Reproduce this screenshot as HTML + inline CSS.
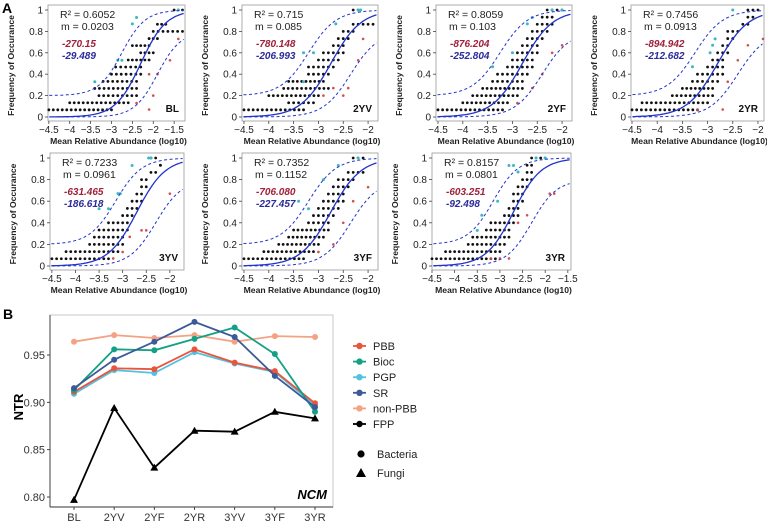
<!DOCTYPE html>
<html><head><meta charset="utf-8"><style>
html,body{margin:0;padding:0;background:#fff;}
svg{display:block;font-family:"Liberation Sans",Arial,sans-serif;}
</style></head><body>
<svg id="fig" width="767" height="522" viewBox="0 0 767 522" xmlns="http://www.w3.org/2000/svg">
<text x="2" y="13" font-size="14" font-weight="bold">A</text>
<text x="3" y="319" font-size="14" font-weight="bold">B</text>
<g id="pa"></g>
<g id="pb"></g>
</svg>
<script>
const NS="http://www.w3.org/2000/svg";
function mk(tag,attrs,parent,txt){const e=document.createElementNS(NS,tag);for(const k in attrs)e.setAttribute(k,attrs[k]);if(txt!==undefined)e.textContent=txt;parent.appendChild(e);return e;}

// ---------- Panel A data ----------
const panelLabels=["BL","2YV","2YF","2YR","3YV","3YF","3YR"];
const panelR2=["0.6052","0.715","0.8059","0.7456","0.7233","0.7352","0.8157"];
const panelM=["0.0203","0.085","0.103","0.0913","0.0961","0.1152","0.0801"];
const panelRed=["-270.15","-780.148","-876.204","-894.942","-631.465","-706.080","-603.251"];
const panelBlue=["-29.489","-206.993","-252.804","-212.682","-186.618","-227.457","-92.498"];
const panelMid=[-2.3,-2.75,-2.8,-2.8,-2.7,-2.75,-2.7];
const panelXTicks=[[-4.5,-4,-3.5,-3,-2.5,-2,-1.5],[-4.5,-4,-3.5,-3,-2.5,-2],[-4.5,-4,-3.5,-3,-2.5,-2],[-4.5,-4,-3.5,-3,-2.5,-2],[-4.5,-4,-3.5,-3,-2.5,-2],[-4.5,-4,-3.5,-3,-2.5,-2],[-4.5,-4,-3.5,-3,-2.5,-2,-1.5]];
const panelXMin=[-4.52,-4.54,-4.54,-4.52,-4.54,-4.54,-4.5];
const panelXMax=[-1.24,-1.8,-1.8,-1.88,-1.7,-1.8,-1.43];
const freqTicks=[0,0.2,0.4,0.6,0.8,1];
// black dot rows: [frequency, xStart, xEnd]
const rowsBL=[[.067,-4.5,-3.0],[.133,-4.0,-2.6],[.2,-3.3,-2.4],[.267,-3.4,-2.4],[.333,-3.2,-2.4],[.4,-3.0,-2.3],[.467,-2.9,-2.3],[.533,-2.6,-2.1],[.6,-2.3,-2.0],[.667,-2.5,-2.1],[.733,-2.1,-1.9],[.8,-2.0,-1.3],[.867,-1.9,-1.7],[1,-1.5,-1.3]];
const rows2YV=[[.067,-4.5,-3.3],[.133,-3.6,-3.1],[.2,-4.0,-3.0],[.267,-3.7,-2.8],[.333,-3.6,-2.9],[.4,-3.2,-2.8],[.467,-3.2,-2.7],[.533,-3.0,-2.6],[.6,-2.9,-2.5],[.667,-2.7,-2.5],[.733,-2.6,-2.4],[.8,-2.5,-2.3],[.867,-2.3,-1.9],[1,-2.3,-2.2]];
const rows2YF=[[.067,-4.5,-3.2],[.133,-4.0,-3.1],[.2,-3.8,-2.9],[.267,-3.6,-2.8],[.333,-3.4,-2.8],[.4,-3.3,-2.7],[.467,-3.1,-2.6],[.533,-3.0,-2.6],[.6,-2.9,-2.5],[.667,-2.8,-2.5],[.733,-2.7,-2.4],[.8,-2.6,-2.3],[.867,-2.5,-2.2],[.933,-2.4,-2.2],[1,-2.3,-2.0]];
const rows2YR=[[.067,-4.5,-3.2],[.133,-4.3,-3.0],[.2,-3.7,-2.9],[.267,-3.5,-2.9],[.333,-3.3,-2.8],[.4,-3.2,-2.7],[.467,-3.0,-2.7],[.533,-2.9,-2.7],[.6,-2.8,-2.6],[.667,-2.7,-2.6],[.733,-2.6,-2.5],[.8,-2.6,-2.4],[.867,-2.3,-2.2],[.933,-2.2,-2.1],[1,-2.2,-2.0]];
const rows3YV=[[.067,-4.5,-3.3],[.133,-4.2,-3.1],[.2,-3.7,-3.0],[.267,-3.6,-3.0],[.333,-3.5,-2.9],[.4,-3.3,-2.9],[.467,-3.0,-2.8],[.533,-2.9,-2.7],[.6,-2.8,-2.6],[.667,-2.7,-2.6],[.733,-2.6,-2.5],[.8,-2.6,-2.5],[.867,-2.4,-2.3],[.933,-2.2,-2.2],[1,-2.4,-2.3]];
const rows3YF=[[.067,-4.5,-3.3],[.133,-4.1,-3.1],[.2,-3.8,-3.0],[.267,-3.6,-2.9],[.333,-3.5,-2.8],[.4,-3.2,-2.8],[.467,-3.1,-2.7],[.533,-3.0,-2.6],[.6,-2.9,-2.5],[.667,-2.8,-2.5],[.733,-2.7,-2.4],[.8,-2.6,-2.3],[.867,-2.4,-2.1],[1,-2.3,-2.1]];
const rows3YR=[[.067,-4.5,-3.1],[.133,-4.2,-3.0],[.2,-3.7,-2.9],[.267,-3.6,-2.8],[.333,-3.3,-2.8],[.4,-3.2,-2.7],[.467,-2.9,-2.6],[.533,-2.8,-2.6],[.6,-2.7,-2.5],[.667,-2.7,-2.5],[.733,-2.6,-2.4],[.8,-2.5,-2.3],[.867,-2.4,-2.3],[.933,-2.4,-2.3],[1,-2.3,-2.0]];
const panelRows=[rowsBL,rows2YV,rows2YF,rows2YR,rows3YV,rows3YF,rows3YR];
const panelCyan=[[[-3.4,.33],[-2.85,.53],[-2.75,.53],[-2.5,.87],[-2.4,.93],[-1.4,1]],[[-3.3,.6],[-3.1,.6],[-3.3,.33],[-2.65,.87],[-2.2,1],[-2.15,1]],[[-3.4,.47],[-3.0,.6],[-2.7,.87],[-2.6,.93],[-2.2,1],[-2.0,1]],[[-3.3,.47],[-2.95,.6],[-2.9,.67],[-2.85,.73],[-2.5,1]],[[-3.5,.53],[-3.3,.53],[-3.1,.67],[-3.05,.67],[-2.8,.93],[-2.45,1],[-2.4,1]],[[-3.4,.6],[-3.2,.53],[-2.9,.8],[-2.6,.93],[-2.2,1]],[[-3.5,.33],[-3.4,.47],[-3.05,.6],[-2.8,.93],[-2.7,.93],[-2.6,.87],[-2.2,1],[-2.0,1]]];
const panelRedPts=[[[-2.4,.13],[-2.1,.07],[-2.0,.2],[-2.1,.4],[-1.9,.4],[-1.6,.53],[-1.4,.73]],[[-2.9,.2],[-2.7,.27],[-2.5,.2],[-2.4,.27],[-2.2,.53],[-2.1,.73]],[[-2.9,.13],[-2.6,.27],[-2.4,.4],[-2.2,.6],[-2.0,.67]],[[-3.2,.07],[-2.7,.07],[-2.6,.33],[-2.4,.53],[-2.2,.67],[-1.9,.73]],[[-3.2,.07],[-3.0,.13],[-2.85,.27],[-2.6,.33],[-2.5,.33],[-2.0,.67]],[[-3.0,.13],[-2.7,.2],[-2.5,.4],[-2.3,.6],[-2.0,.73]],[[-3.2,.07],[-3.0,.07],[-2.8,.07],[-2.6,.4],[-2.4,.47],[-1.9,.67],[-1.8,.67]]];
const panelLeft=[48,242,436,631,50,242,432];
const panelRight=[185,378,572,764,184,378,571];
const panelTop=[10,10,10,10,158,158,158];
const panelBottom=[117,117,117,117,266,266,266];

const pa=document.getElementById('pa');
for(let p=0;p<7;p++){
  const L=panelLeft[p],R=panelRight[p],T=panelTop[p],B=panelBottom[p];
  const xs=v=>L+(v-panelXMin[p])/(panelXMax[p]-panelXMin[p])*(R-L);
  const ys=v=>B-v*(B-T);
  const g=mk('g',{},pa);
  
  
  const box=mk('rect',{x:L,y:T-5,width:R-L,height:B-T+9,fill:'none',stroke:'#999','stroke-width':0.8},g);
  
  
  freqTicks.forEach(t=>{
    const y=ys(t);
    mk('line',{x1:L-3,x2:L,y1:y,y2:y,stroke:'#444','stroke-width':0.8},g);
    const tl=mk('text',{x:L-5,y:y+3.5,'font-size':10,'text-anchor':'end',fill:'#222'},g,String(t));
    
    
  });
  panelXTicks[p].forEach(t=>{
    const x=xs(t);
    mk('line',{x1:x,x2:x,y1:B+4,y2:B+7,stroke:'#444','stroke-width':0.8},g);
    const tl=mk('text',{x:x,y:B+16,'font-size':10,'text-anchor':'middle',fill:'#222'},g,String(t).replace('-','\u2212'));
    
    
  });
  const yt=mk('text',{x:0,y:0,'font-size':8.6,'font-weight':'bold','text-anchor':'middle',transform:`translate(${L-34},${(T+B)/2+2}) rotate(-90)`,fill:'#222'},g,'Frequency of Occurance');
  
  
  const xt=mk('text',{x:(L+R)/2+2,y:B+27,'font-size':8.6,'font-weight':'bold','text-anchor':'middle',fill:'#222'},g,'Mean Relative Abundance (log10)');
  
  
  panelRows[p].forEach(r=>{
    const x1=xs(r[1]),x2=xs(r[2]);const n=Math.max(1,Math.round((x2-x1)/4.6));
    for(let i=0;i<=n;i++){const c=mk('circle',{cx:x1+(x2-x1)*i/n,cy:ys(r[0]),r:1.4,fill:'#111'},g);
      
      }
  });
  panelCyan[p].forEach(d=>{const c=mk('circle',{cx:xs(d[0]),cy:ys(d[1]),r:1.5,fill:'#3cb8c0'},g);
    
    });
  panelRedPts[p].forEach(d=>{const c=mk('circle',{cx:xs(d[0]),cy:ys(d[1]),r:1.3,fill:'#d05050'},g);
    
    });
  const k=3.3,m=panelMid[p];
  const fits=[[x=>1/(1+Math.exp(-k*(x-m))),'none','solid-fit-curve',1.3],[x=>0.2+0.8/(1+Math.exp(-3.6*(x-(m-0.45)))),'3,2.5','upper-ci-curve',1],[x=>0.8/(1+Math.exp(-3.6*(x-(m+0.4)))),'3,2.5','lower-ci-curve',1]];
  fits.forEach(f=>{
    let d='';const x0=panelXMin[p]+0.03;const x1=panelXMax[p]-0.03;
    for(let i=0;i<=80;i++){const xv=x0+(x1-x0)*i/80;d+=(i?'L':'M')+xs(xv).toFixed(1)+','+ys(Math.min(1,f[0](xv))).toFixed(1);}
    const pth=mk('path',{d:d,fill:'none',stroke:'#2233cc','stroke-width':f[3],'stroke-dasharray':f[1]},g);
    
    
  });
  const t1=mk('text',{x:L+12,y:T+8,'font-size':10.5,fill:'#222'},g,'R\u00b2 =  '+panelR2[p]);
  
  
  const t2=mk('text',{x:L+13,y:T+20,'font-size':10.5,fill:'#222'},g,'m =  '+panelM[p]);
  
  
  const t3=mk('text',{x:L+14,y:T+37,'font-size':10,'font-style':'italic','font-weight':'bold',fill:'#a0203a'},g,panelRed[p]);
  
  
  const t4=mk('text',{x:L+14,y:T+49,'font-size':10,'font-style':'italic','font-weight':'bold',fill:'#2a2a9a'},g,panelBlue[p]);
  
  
  const t5=mk('text',{x:R-6,y:B-5,'font-size':10,'font-weight':'bold','text-anchor':'end',fill:'#111'},g,panelLabels[p]);
  
  
}

// ---------- Panel B data ----------
const bCategories=["BL","2YV","2YF","2YR","3YV","3YF","3YR"];
const bSeriesNames=["non-PBB","PGP","PBB","Bioc","SR","FPP"];
const bSeriesColors=["#f4a284","#55c1e0","#e8563c","#13a084","#3d5a98","#000000"];
const ntrNonPBB=[.964,.971,.968,.971,.964,.970,.969];
const ntrPGP=[.909,.934,.931,.953,.941,.932,.897];
const ntrPBB=[.911,.936,.935,.956,.942,.933,.899];
const ntrBioc=[.913,.956,.955,.967,.979,.951,.890];
const ntrSR=[.915,.945,.964,.985,.969,.928,.895];
const ntrFPP=[.797,.894,.831,.870,.869,.890,.883];
const bSeries=[ntrNonPBB,ntrPGP,ntrPBB,ntrBioc,ntrSR,ntrFPP];
const bYTicks=[0.80,0.85,0.90,0.95];
const legendNames=["PBB","Bioc","PGP","SR","non-PBB","FPP"];
const legendColors=["#e8563c","#13a084","#55c1e0","#3d5a98","#f4a284","#000000"];

const pb=document.getElementById('pb');
const BL=50,BR=333,BT=315,BB=507;
const bx=i=>74+i*(315-74)/(bCategories.length-1);
const by=v=>355+(0.95-v)*(497-355)/0.15;
const frame=mk('rect',{x:BL,y:BT,width:BR-BL,height:BB-BT,fill:'none',stroke:'#bbb','stroke-width':0.8},pb);


mk('line',{x1:BL,x2:BL,y1:BT,y2:BB,stroke:'#333','stroke-width':0.9},pb);
mk('line',{x1:BL,x2:BR,y1:BB,y2:BB,stroke:'#333','stroke-width':0.9},pb);
bYTicks.forEach(t=>{
  mk('line',{x1:BL-3,x2:BL,y1:by(t),y2:by(t),stroke:'#333','stroke-width':0.9},pb);
  const tl=mk('text',{x:BL-5,y:by(t)+4,'font-size':11,'text-anchor':'end',fill:'#333'},pb,t.toFixed(2));
  
  
});
bCategories.forEach((c,i)=>{
  mk('line',{x1:bx(i),x2:bx(i),y1:BB,y2:BB+3,stroke:'#333','stroke-width':0.9},pb);
  const tl=mk('text',{x:bx(i),y:BB+14,'font-size':11,'text-anchor':'middle',fill:'#333'},pb,c);
  
  
});
const ntrT=mk('text',{x:0,y:0,'font-size':13,'font-weight':'bold','text-anchor':'middle',transform:'translate(23,407) rotate(-90)'},pb,'NTR');


const ncm=mk('text',{x:327,y:499,'font-size':13,'font-weight':'bold','font-style':'italic','text-anchor':'end'},pb,'NCM');


bSeries.forEach((s,si)=>{
  const col=bSeriesColors[si];
  const d=s.map((v,i)=>(i?'L':'M')+bx(i)+','+by(v).toFixed(1)).join('');
  const ln=mk('path',{d:d,fill:'none',stroke:col,'stroke-width':1.8},pb);
  
  
  s.forEach((v,i)=>{
    let mkEl;
    if(bSeriesNames[si]==='FPP'){const x=bx(i),y=by(v);mkEl=mk('path',{d:`M${x},${y-4}L${x+4},${y+3}L${x-4},${y+3}Z`,fill:col},pb);}
    else mkEl=mk('circle',{cx:bx(i),cy:by(v),r:3,fill:col},pb);
    
    
  });
});
legendNames.forEach((n,i)=>{
  const y=346+i*15.6;
  const g=mk('g',{},pb);
  
  
  mk('line',{x1:353,x2:366,y1:y,y2:y,stroke:legendColors[i],'stroke-width':1.8},g);
  mk('circle',{cx:359.5,cy:y,r:3.2,fill:legendColors[i]},g);
  mk('text',{x:373,y:y+4,'font-size':11,fill:'#222'},g,n);
});
const lb=mk('g',{},pb);


mk('circle',{cx:361,cy:454,r:3.6,fill:'#000'},lb);
mk('text',{x:377,y:458,'font-size':11,fill:'#222'},lb,'Bacteria');
const lf=mk('g',{},pb);


mk('path',{d:'M361,468L366,477L356,477Z',fill:'#000'},lf);
mk('text',{x:377,y:477,'font-size':11,fill:'#222'},lf,'Fungi');
</script>
</body></html>
